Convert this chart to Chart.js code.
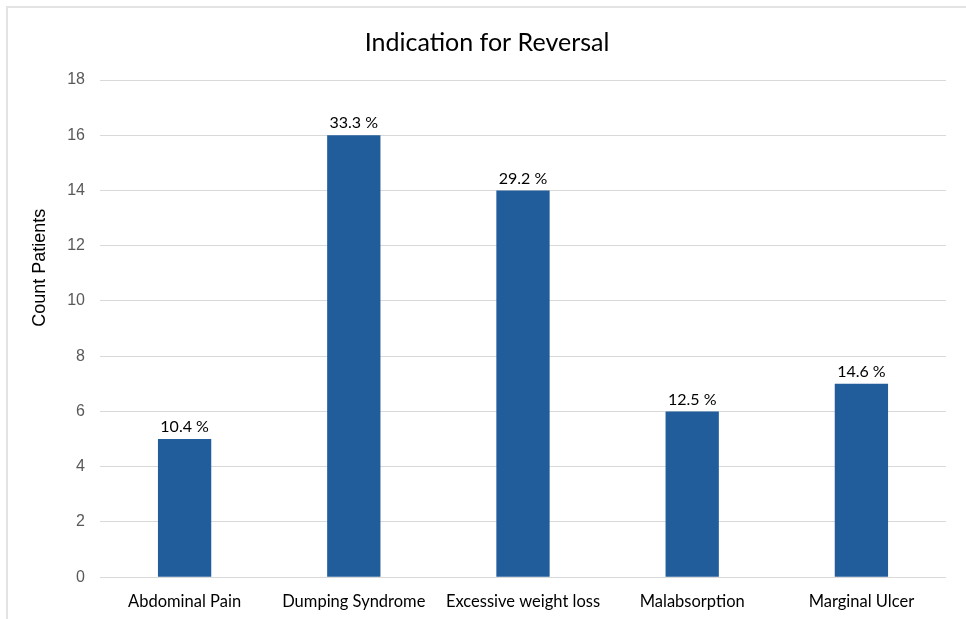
<!DOCTYPE html>
<html>
<head>
<meta charset="utf-8">
<script src="https://cdn.jsdelivr.net/npm/chart.js@4/dist/chart.umd.min.js"></script>
<style>
  html, body { margin:0; padding:0; background:#fff; overflow:hidden; }
  #wrap { position:absolute; left:0; top:0; width:966px; height:619px; }
  #frame { position:absolute; left:6px; top:6px; width:970px; height:620px;
           border-top:2px solid #e3e3e3; border-left:2px solid #e3e3e3; }
</style>
</head>
<body>
<div id="frame"></div>
<div id="wrap"><canvas id="barChart"></canvas></div>
<script>
// =================== DATA ===================
const categories = ["Abdominal Pain", "Dumping Syndrome", "Excessive weight loss", "Malabsorption", "Marginal Ulcer"];
const counts = [5, 16, 14, 6, 7];
const percents = ["10.4 %", "33.3 %", "29.2 %", "12.5 %", "14.6 %"];
const yTitle = "Count Patients";

// labels above bars + y axis title (sits a bit above centre in the original)
const barLabels = {
  id: "barLabels",
  afterDatasetsDraw(chart) {
    const ctx = chart.ctx;
    const meta = chart.getDatasetMeta(0);
    ctx.save();
    ctx.font = "16px Lato";
    ctx.fillStyle = "#000";
    ctx.textAlign = "center";
    ctx.textBaseline = "bottom";
    meta.data.forEach((bar, i) => {
      ctx.fillText(percents[i], bar.x, bar.y - 4);
    });
    // y title
    const ys = chart.scales.y;
    ctx.font = "18px 'Liberation Sans'";
    ctx.textBaseline = "middle";
    ctx.translate(40, ys.getPixelForValue(11.2));
    ctx.rotate(-Math.PI / 2);
    ctx.fillText(yTitle, 0, 0);
    ctx.restore();
  }
};

new Chart(document.getElementById("barChart"), {
  type: "bar",
  data: {
    labels: categories,
    datasets: [{
      data: counts,
      backgroundColor: "#215d9a",
      categoryPercentage: 1,
      barPercentage: 0.315
    }]
  },
  options: {
    responsive: true,
    maintainAspectRatio: false,
    animation: false,
    layout: { padding: { left: 28, right: 20, top: 14, bottom: 0 } },
    plugins: {
      legend: { display: false },
      tooltip: { enabled: false },
      title: {
        display: true,
        text: "Indication for Reversal",
        color: "#000",
        font: { family: "Lato", size: 25, weight: "normal" },
        padding: { top: 14, bottom: 22 }
      }
    },
    scales: {
      x: {
        grid: { display: false },
        border: { display: false },
        ticks: { color: "#000", font: { family: "Lato", size: 16.5 }, padding: 7 }
      },
      y: {
        min: 0, max: 18,
        afterFit(scale) { scale.width = 72; },
        ticks: { stepSize: 2, color: "#595959", font: { family: "Liberation Sans", size: 16 }, padding: 15 },
        grid: { color: "#d9d9d9", lineWidth: 1, drawTicks: false },
        border: { display: false }
      }
    }
  },
  plugins: [barLabels]
});
</script>
</body>
</html>
